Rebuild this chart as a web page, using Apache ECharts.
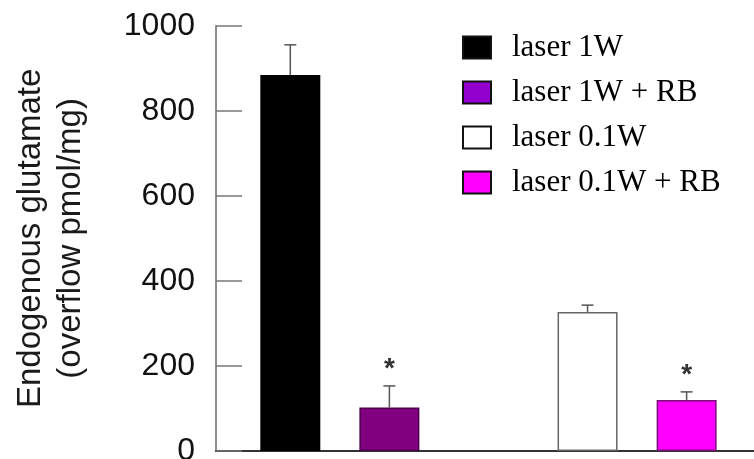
<!DOCTYPE html>
<html><head><meta charset="utf-8">
<script src="https://cdn.jsdelivr.net/npm/echarts@6/dist/echarts.min.js"></script>
<style>html,body{margin:0;padding:0;background:#fff}#c{width:754px;height:459px}</style>
</head><body><div id="c"></div>
<script>
const groups = ['laser 1W', 'laser 1W + RB', 'laser 0.1W', 'laser 0.1W + RB'];
const slots = [1, 2, 4, 5];
const means = [884, 102, 327, 120];
const sems = [71, 51, 16, 19];
const marks = ['', '*', '', '*'];
const yMin = 0, yMax = 1000, yStep = 200;

const barColors = ['#000000', '#800080', '#ffffff', '#ff00ff'];
const barBorders = ['#000000', '#4d004d', '#666666', '#7a107a'];
const legendColors = ['#000000', '#9400cf', '#ffffff', '#ff00ff'];

const chart = echarts.init(document.getElementById('c'), null, {renderer: 'canvas'});

const barSeries = groups.map((g, i) => ({
  name: g,
  type: 'bar',
  barWidth: 60,
  barGap: '-100%',
  data: [[slots[i], means[i]]],
  itemStyle: {color: barColors[i], borderColor: barBorders[i], borderWidth: 1.5},
  z: 2
}));

const errSeries = {
  type: 'custom',
  z: 5,
  silent: true,
  data: groups.map((g, i) => [slots[i], means[i], sems[i]]),
  renderItem(params, api) {
    const x = api.value(0), v = api.value(1), e = api.value(2);
    const base = api.coord([x, v]);
    const top = api.coord([x, v + e]);
    const cap = 6;
    const children = [
      {type: 'line', shape: {x1: base[0], y1: base[1], x2: top[0], y2: top[1]}, style: {stroke: '#555', lineWidth: 1.5}},
      {type: 'line', shape: {x1: top[0] - cap, y1: top[1], x2: top[0] + cap, y2: top[1]}, style: {stroke: '#555', lineWidth: 1.5}}
    ];
    const m = marks[params.dataIndex];
    if (m) {
      children.push({type: 'text', x: top[0], y: top[1] - 17,
        style: {text: m, fontSize: 28, fontWeight: 'bold', fill: '#333', align: 'center', verticalAlign: 'middle', fontFamily: 'Liberation Sans'}});
    }
    return {type: 'group', children};
  }
};

chart.setOption({
  animation: false,
  backgroundColor: '#fff',
  grid: {left: 216, right: 0, top: 25.7, bottom: 8, containLabel: false, outerBoundsMode: 'none'},
  legend: {
    orient: 'vertical', left: 462, top: 32, padding: 0,
    icon: 'rect', itemWidth: 28, itemHeight: 22, itemGap: 14,
    textStyle: {fontFamily: 'Liberation Serif', fontSize: 31, color: '#000', padding: [0, 0, 0, 16]},
    data: groups.map((g, i) => ({name: g, itemStyle: {color: legendColors[i], borderColor: '#111', borderWidth: 2}}))
  },
  xAxis: {
    type: 'value', min: 0.25, max: 5.68,
    axisLine: {show: true, lineStyle: {color: '#333', width: 2}},
    axisTick: {show: false}, axisLabel: {show: false}, splitLine: {show: false}
  },
  yAxis: {
    type: 'value', min: yMin, max: yMax, interval: yStep,
    name: 'Endogenous glutamate\n(overflow pmol/mg)',
    nameLocation: 'middle', nameGap: 125,
    nameTextStyle: {fontFamily: 'Liberation Sans', fontSize: 33, lineHeight: 40, color: '#1a1a1a'},
    axisLine: {show: true, onZero: false, lineStyle: {color: '#666', width: 1.5}},
    axisTick: {show: true, inside: true, length: 26, lineStyle: {color: '#777', width: 1.5}},
    axisLabel: {fontFamily: 'Liberation Sans', fontSize: 32, color: '#111', margin: 21, formatter: v => String(v)},
    splitLine: {show: false}
  },
  series: [...barSeries, errSeries]
});
</script></body></html>
